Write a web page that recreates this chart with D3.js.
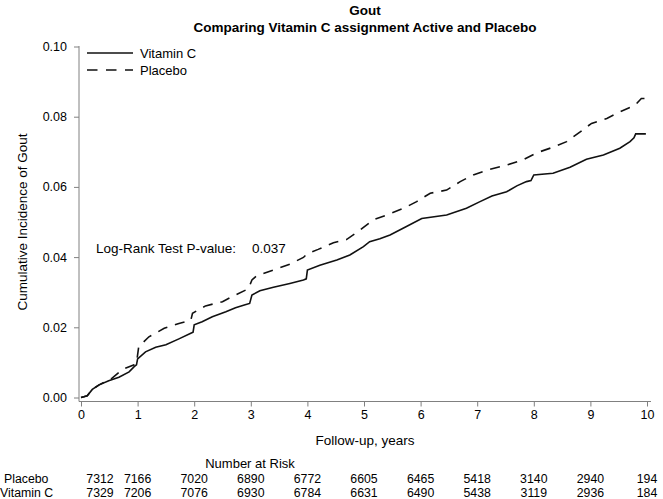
<!DOCTYPE html>
<html><head><meta charset="utf-8">
<script src="https://cdn.jsdelivr.net/npm/d3@7"></script>
<style>
body{margin:0;background:#fff;}
svg{display:block;font-family:"Liberation Sans",Arial,sans-serif;}
</style></head>
<body><svg id="c" width="663" height="499"></svg>
<script>
const xTicks = [0,1,2,3,4,5,6,7,8,9,10];
const yTicks = [0,0.02,0.04,0.06,0.08,0.10];
const vitCTime = [0,0.05,0.11,0.2,0.32,0.49,0.67,0.85,0.94,0.98,1.0,1.14,1.32,1.5,1.73,1.94,1.98,2.0,2.14,2.32,2.56,2.73,2.9,2.98,3.02,3.16,3.4,3.69,3.93,3.98,4.0,4.22,4.52,4.75,4.99,5.1,5.28,5.46,5.75,6.02,6.46,6.81,7.05,7.26,7.52,7.7,7.87,7.95,8.0,8.34,8.64,8.93,9.23,9.52,9.7,9.77,9.8,9.98];
const vitCVal = [0,0.0002,0.0005,0.0023,0.0036,0.0048,0.0058,0.0073,0.0088,0.0093,0.011,0.013,0.0143,0.015,0.0167,0.0183,0.0186,0.0207,0.0216,0.023,0.0244,0.0256,0.0264,0.0268,0.0292,0.0304,0.0314,0.0325,0.0335,0.0338,0.0363,0.0377,0.0392,0.0406,0.043,0.0444,0.0452,0.0463,0.0487,0.051,0.052,0.0539,0.0558,0.0574,0.0586,0.0603,0.0615,0.0618,0.0634,0.0639,0.0656,0.0679,0.0691,0.071,0.0729,0.074,0.0751,0.0751];
const placTime = [0,0.05,0.11,0.2,0.32,0.55,0.73,0.94,0.98,1.02,1.2,1.47,1.73,1.94,1.97,2.2,2.5,2.7,2.96,3.02,3.1,3.4,3.69,3.93,4.0,4.19,4.46,4.69,4.93,5.16,5.4,5.7,5.93,6.17,6.46,6.7,6.93,7.22,7.52,7.81,8.05,8.32,8.58,8.82,9.02,9.29,9.52,9.79,9.9,9.99];
const placVal = [0,0.0002,0.0005,0.0023,0.0036,0.0055,0.008,0.0093,0.0098,0.0145,0.0173,0.0197,0.0211,0.022,0.024,0.0261,0.0273,0.029,0.031,0.0335,0.0346,0.0363,0.038,0.0399,0.041,0.0422,0.0441,0.045,0.0477,0.0506,0.052,0.0539,0.0558,0.0582,0.0591,0.0615,0.0634,0.065,0.0662,0.0677,0.0697,0.0712,0.0729,0.0757,0.0781,0.0795,0.0814,0.0833,0.0852,0.0852];
const riskGroups = ["Placebo","Vitamin C"];
const riskPlacebo = [7312,7166,7020,6890,6772,6605,6465,5418,3140,2940,194];
const riskVitC = [7329,7206,7076,6930,6784,6631,6490,5438,3119,2936,184];

const svg = d3.select("#c");
const x = d3.scaleLinear().domain([0,10]).range([81,647]);
const y = d3.scaleLinear().domain([0,0.10]).range([397.5,46.5]);
const axisColor = "#808080";

// titles
svg.append("text").attr("x",365).attr("y",15).attr("text-anchor","middle")
  .attr("font-weight","bold").attr("font-size",13.5).text("Gout");
svg.append("text").attr("x",365).attr("y",32).attr("text-anchor","middle")
  .attr("font-weight","bold").attr("font-size",13.5).text("Comparing Vitamin C assignment Active and Placebo");

// axes
const gx = svg.append("g").attr("transform","translate(0,401.5)")
  .call(d3.axisBottom(x).tickValues(xTicks).tickSize(5).tickSizeOuter(0).tickFormat(d3.format("d")));
gx.select(".domain").attr("d","M79,0H651").attr("stroke",axisColor);
const gy = svg.append("g").attr("transform","translate(79,0)")
  .call(d3.axisLeft(y).tickValues(yTicks).tickSize(5).tickSizeOuter(0).tickFormat(d3.format(".2f")));
gy.select(".domain").attr("d","M0,46V401.5").attr("stroke",axisColor);
[gx,gy].forEach(g=>{
  g.selectAll(".tick line").attr("stroke",axisColor);
  g.selectAll(".tick text").attr("font-size",12.5).attr("fill","#000").attr("font-family","Liberation Sans, Arial, sans-serif");
});
gx.selectAll(".tick text").attr("dy","0.71em").attr("y",9);
gy.selectAll(".tick text").attr("x",-12);

svg.append("text").attr("x",365).attr("y",445).attr("text-anchor","middle").attr("font-size",13.5).text("Follow-up, years");
svg.append("text").attr("transform","translate(27,222) rotate(-90)").attr("text-anchor","middle").attr("font-size",13.5).text("Cumulative Incidence of Gout");

// curves
const line = d3.line().x(d=>x(d[0])).y(d=>y(d[1])).curve(d3.curveLinear);
const vitData = vitCTime.map((t,i)=>[t,vitCVal[i]]);
const placData = placTime.map((t,i)=>[t,placVal[i]]);
svg.append("path").datum(placData).attr("d",line).attr("fill","none").attr("stroke","#111").attr("stroke-width",1.6).attr("stroke-dasharray","10,8");
svg.append("path").datum(vitData).attr("d",line).attr("fill","none").attr("stroke","#111").attr("stroke-width",1.6);

// legend
const leg = svg.append("g");
leg.append("line").attr("x1",87).attr("x2",133).attr("y1",53).attr("y2",53).attr("stroke","#111").attr("stroke-width",1.6);
leg.append("text").attr("x",140).attr("y",58).attr("font-size",13).text("Vitamin C");
leg.append("line").attr("x1",87).attr("x2",133).attr("y1",70).attr("y2",70).attr("stroke","#111").attr("stroke-width",1.6).attr("stroke-dasharray","10.5,8.5");
leg.append("text").attr("x",140).attr("y",75).attr("font-size",13).text("Placebo");

// log-rank
svg.append("text").attr("x",96).attr("y",253).attr("font-size",13.5).text("Log-Rank Test P-value:");
svg.append("text").attr("x",252).attr("y",253).attr("font-size",13.5).text("0.037");

// risk table
svg.append("text").attr("x",250).attr("y",468).attr("text-anchor","middle").attr("font-size",13).text("Number at Risk");
const rows = [riskPlacebo, riskVitC];
const rowY = [482.5, 496.5];
riskGroups.forEach((g,i)=>{
  svg.append("text").attr("x",i===0?4:0).attr("y",rowY[i]).attr("font-size",12.3).text(g);
  svg.selectAll(null).data(rows[i]).enter().append("text")
    .attr("x",(d,j)=> j===0 ? 100 : x(xTicks[j]))
    .attr("text-anchor","middle")
    .attr("y",rowY[i]).attr("font-size",12.3).text(d=>d);
});
</script></body></html>
